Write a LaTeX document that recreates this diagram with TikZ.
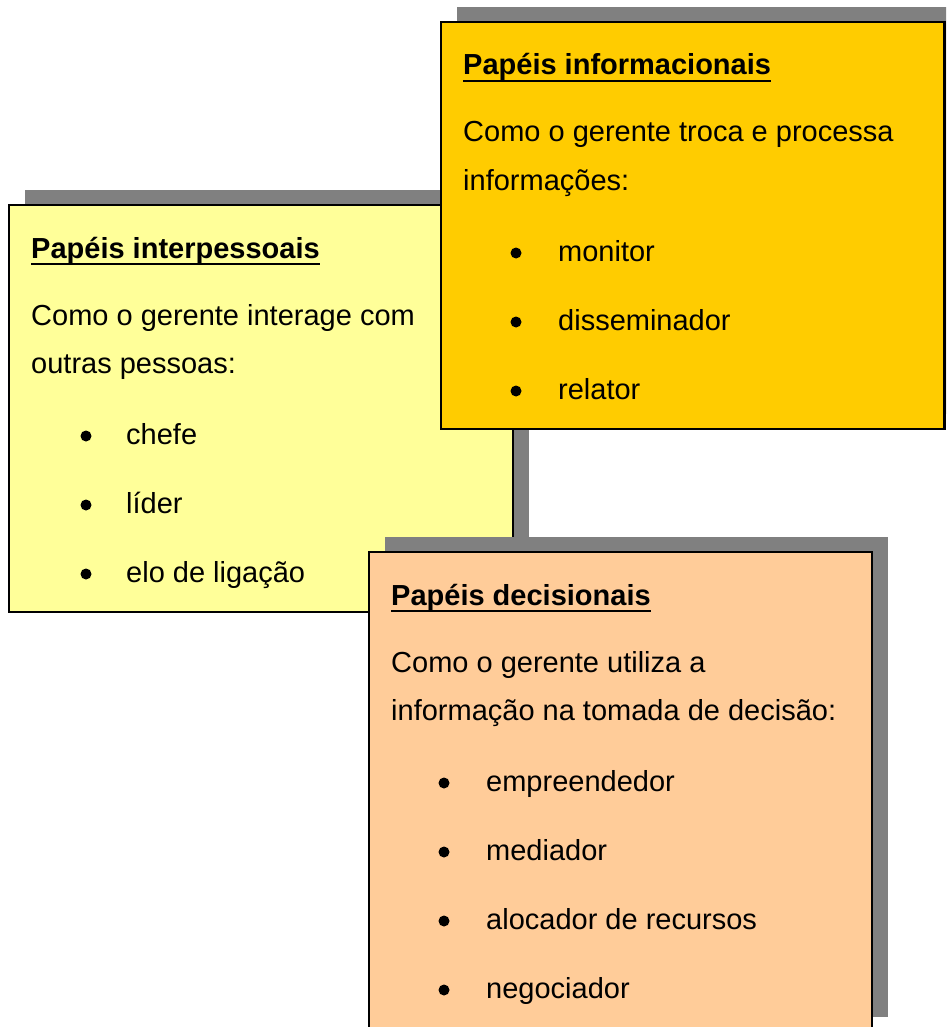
\documentclass[tikz,border=0pt]{standalone}
\usepackage{fontspec}
\setmainfont{Liberation Sans}
\usepackage{tikz}
\usetikzlibrary{positioning}
\definecolor{myyellow}{RGB}{255,255,153}
\definecolor{myorange}{RGB}{255,204,0}
\definecolor{mypeach}{RGB}{255,204,153}
\definecolor{mygray}{RGB}{128,128,128}

\begin{document}
\begin{tikzpicture}[x=1pt, y=-1pt, font=\fontsize{29}{35}\selectfont,
    papel/.style={draw=black, line width=2.5pt},
    sombra/.style={fill=mygray},
    linha/.style={anchor=base west, inner sep=0pt},
    titulo/.style={linha, font=\fontsize{29}{35}\selectfont\bfseries},
    ponto/.style={circle, fill=black, inner sep=0pt, minimum size=11pt}]
        \useasboundingbox (0,0) rectangle (946,1027);
        \clip (0,0) rectangle (946,1027);
        % interpessoais
        \fill[sombra] (25,190) rectangle (529,597);
        \draw[papel, fill=myyellow] (9,205) rectangle (513,612);
        \node[titulo] (A) at (31,258) {Papéis interpessoais};
        \draw[line width=2.5pt] ([yshift=-6pt]A.base west) -- ([yshift=-6pt]A.base east);
        \node[linha] (A1) at (31,325) {Como o gerente interage com};
        \node[linha] (A2) at (31,373) {outras pessoas:};
        \foreach \txt [count=\i] in {chefe, líder, elo de ligação} {
            \node[ponto] (Ap\i) at (86,{444+69*(\i-1)-8}) {};
            \node[linha] (Ab\i) at (126,{444+69*(\i-1)}) {\txt};
        }
        % informacionais
        \fill[sombra] (457,7) rectangle (960,414);
        \draw[papel, fill=myorange] (441,22) rectangle (944.5,429);
        \node[titulo] (B) at (463,75) {Papéis informacionais};
        \draw[line width=2.5pt] ([yshift=-6pt]B.base west) -- ([yshift=-6pt]B.base east);
        \node[linha] (B1) at (463,142) {Como o gerente troca e processa};
        \node[linha] (B2) at (463,190) {informações:};
        \foreach \txt [count=\i] in {monitor, disseminador, relator} {
            \node[ponto] (Bp\i) at (516,{261+69*(\i-1)-8}) {};
            \node[linha] (Bb\i) at (558,{261+69*(\i-1)}) {\txt};
        }
        % decisionais
        \fill[sombra] (385,537) rectangle (888,1017);
        \draw[papel, fill=mypeach] (369,552) rectangle (872,1032);
        \node[titulo] (C) at (391,605) {Papéis decisionais};
        \draw[line width=2.5pt] ([yshift=-6pt]C.base west) -- ([yshift=-6pt]C.base east);
        \node[linha] (C1) at (391,672) {Como o gerente utiliza a};
        \node[linha] (C2) at (391,720) {informação na tomada de decisão:};
        \foreach \txt [count=\i] in {empreendedor, mediador, alocador de recursos, negociador} {
            \node[ponto] (Cp\i) at (444,{791+69*(\i-1)-8}) {};
            \node[linha] (Cb\i) at (486,{791+69*(\i-1)}) {\txt};
        }
\end{tikzpicture}
\end{document}
